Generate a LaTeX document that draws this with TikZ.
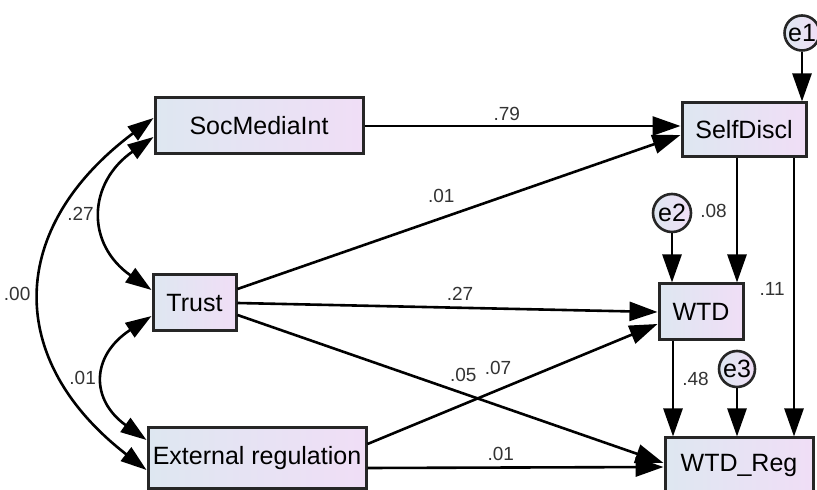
\documentclass[tikz,border=0pt]{standalone}
\usepackage{fontspec}
\setmainfont{Liberation Sans}
\usetikzlibrary{arrows.meta}
\definecolor{boxl}{RGB}{222,231,241}
\definecolor{boxr}{RGB}{240,222,246}
\begin{document}
\begin{tikzpicture}[x=0.5pt,y=-0.5pt,
  var/.style={draw=black!85,line width=1.5pt,left color=boxl,right color=boxr,inner sep=0pt,font=\fontsize{12.5}{15}\selectfont},
  err/.style={circle,draw=black!85,line width=1.3pt,left color=boxl,right color=boxr,inner sep=0pt,font=\fontsize{12.5}{15}\selectfont},
  arr/.style={line width=1.3pt,-{Triangle[length=14pt,width=9.5pt]}},
  cov/.style={line width=1.3pt,{Triangle[length=13pt,width=8.5pt]}-{Triangle[length=13pt,width=8.5pt]}},
  coef/.style={font=\fontsize{9.5}{11}\selectfont,inner sep=1pt,text=black!80}]
\useasboundingbox (0,0) rectangle (817,490);
% observed variables
\node[var,minimum width=104pt,minimum height=28pt] (soc) at (259,126) {SocMediaInt};
\node[var,minimum width=41.5pt,minimum height=28pt] (trust) at (194.5,303) {Trust};
\node[var,minimum width=109pt,minimum height=30pt] (ext) at (257,458) {External regulation};
\node[var,minimum width=62pt,minimum height=27pt] (self) at (744,130) {SelfDiscl};
\node[var,minimum width=42pt,minimum height=28pt] (wtd) at (701,312) {WTD};
\node[var,minimum width=74pt,minimum height=27pt] (wtdreg) at (739,465) {WTD\_Reg};
% error terms
\node[err,minimum size=17.5pt] (e1) at (802,33) {e1};
\node[err,minimum size=19pt] (e2) at (672,213) {e2};
\node[err,minimum size=18pt] (e3) at (737,369) {e3};
% regression paths
\draw[arr] (soc.east) -- (soc.east -| self.west) node[coef,pos=.45,above=1pt]{.79};
\draw[arr] ([yshift=7pt]trust.east) -- ([yshift=-2.5pt]self.west) node[coef,pos=.46,above=6pt]{.01};
\draw[arr] (trust.east) -- (wtd.west) node[coef,pos=.53,above=2pt]{.27};
\draw[arr] ([yshift=-6pt]trust.east) -- ([yshift=1pt]wtdreg.west) node[coef,pos=.53,above=4pt]{.05};
\draw[arr] ([yshift=7pt]ext.east) -- ([yshift=-6pt]wtd.west) node[coef,pos=.45,above=6pt]{.07};
\draw[arr] ([yshift=-5pt]ext.east) -- ([yshift=-1pt]wtdreg.west) node[coef,pos=.45,above=2pt]{.01};
\draw[arr] ([xshift=-3.5pt]self.south) -- ([xshift=-3.5pt]self.south |- wtd.north) node[coef,pos=.42,left=3.5pt]{.08};
\draw[arr] ([xshift=25pt]self.south) -- ([xshift=25pt]self.south |- wtdreg.north) node[coef,pos=.47,left=3pt]{.11};
\draw[arr] ([xshift=-14pt]wtd.south) -- ([xshift=-14pt]wtd.south |- wtdreg.north) node[coef,pos=.39,right=3pt]{.48};
\draw[arr] (e1) -- (e1 |- self.north);
\draw[arr] (e2) -- (e2 |- wtd.north);
\draw[arr] (e3) -- (e3 |- wtdreg.north);
% covariances
\draw[cov] ([yshift=-5.5pt]soc.west) .. controls +(-66,46) and +(-66,-46) .. ([yshift=6.5pt]trust.west) node[coef,pos=.5,left=3pt]{.27};
\draw[cov] ([yshift=-6.5pt]trust.west) .. controls +(-61,40) and +(-56,-40) .. ([yshift=9pt]ext.west) node[coef,pos=.5,left=3pt]{.01};
\draw[cov] ([yshift=4pt]soc.west) .. controls +(-147,110) and +(-142,-110) .. ([yshift=-6pt]ext.west) node[coef,pos=.5,left=4pt]{.00};
\end{tikzpicture}
\end{document}
